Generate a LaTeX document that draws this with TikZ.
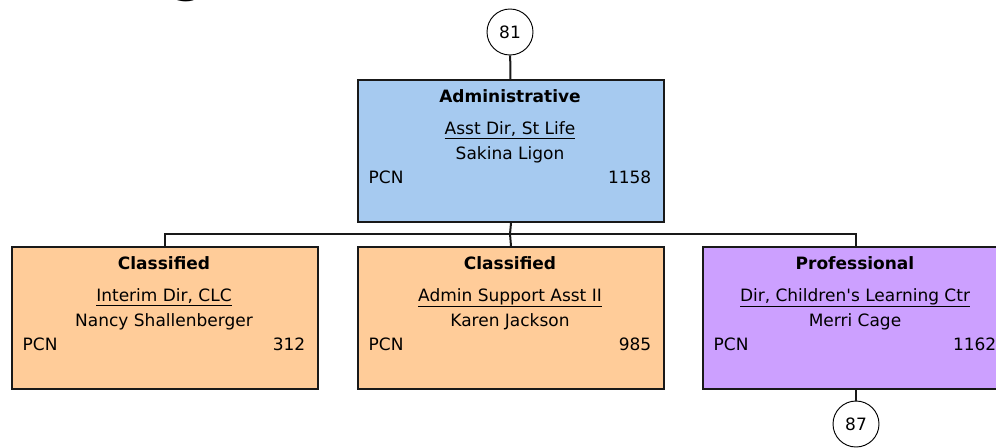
\documentclass[tikz,border=0pt]{standalone}
\usepackage{fontspec}
\setmainfont{DejaVu Sans}
\usepackage{tikz}
\usetikzlibrary{positioning}

\definecolor{adminblue}{RGB}{166,202,240}
\definecolor{classorange}{RGB}{255,204,153}
\definecolor{profpurple}{RGB}{204,160,255}

\tikzset{
	posbox/.style={draw=black!90,line width=1.5pt,anchor=north west,minimum width=229.5pt,minimum height=106.5pt,inner sep=0pt},
	pagelink/.style={draw,circle,line width=0.7pt,minimum size=34.5pt,inner sep=0pt,fill=white},
	kind/.style={anchor=base,font=\fontsize{12.75}{15}\selectfont\bfseries},
	conn/.style={line width=1.5pt,draw=black!90},
}

\begin{document}
\begin{tikzpicture}[x=0.75pt,y=-0.75pt,font=\fontsize{12.75}{15}\selectfont]
		
		\useasboundingbox (0,0) rectangle (996,447);
		
		% Title, cut off by the page
		\node[anchor=base,font=\fontsize{36}{40}\selectfont\bfseries] (heading) at (189,-9) {g};
		
		% Off-page links
		\node[pagelink] (link81) at (510,32) {81};
		\node[pagelink] (link87) at (856,424) {87};
		
		% Administrative
		\node[posbox,fill=adminblue] (admin) at (357,79) {};
		\node[kind] (admin-kind) at (510,102) {Administrative};
		\node[anchor=base] (admin-title) at (510,134) {\underline{Asst Dir, St Life}};
		\node[anchor=base] (admin-name) at (510,159) {Sakina Ligon};
		\node[anchor=base west] (admin-pcn) at (364,183) {PCN};
		\node[anchor=base east] (admin-num) at (656,183) {1158};
		
		% Classified, left
		\node[posbox,fill=classorange] (interim) at (11,246) {};
		\node[kind] (interim-kind) at (164,269) {Classified};
		\node[anchor=base] (interim-title) at (164,301) {\underline{Interim Dir, CLC}};
		\node[anchor=base] (interim-name) at (164,326) {Nancy Shallenberger};
		\node[anchor=base west] (interim-pcn) at (18,350) {PCN};
		\node[anchor=base east] (interim-num) at (310,350) {312};
		
		% Classified, middle
		\node[posbox,fill=classorange] (support) at (357,246) {};
		\node[kind] (support-kind) at (510,269) {Classified};
		\node[anchor=base] (support-title) at (510,301) {\underline{Admin Support Asst II}};
		\node[anchor=base] (support-name) at (510,326) {Karen Jackson};
		\node[anchor=base west] (support-pcn) at (364,350) {PCN};
		\node[anchor=base east] (support-num) at (656,350) {985};
		
		% Professional, right
		\node[posbox,fill=profpurple] (learning) at (702,246) {};
		\node[kind] (learning-kind) at (855,269) {Professional};
		\node[anchor=base] (learning-title) at (855,301) {\underline{Dir, Children\textquotesingle s Learning Ctr}};
		\node[anchor=base] (learning-name) at (855,326) {Merri Cage};
		\node[anchor=base west] (learning-pcn) at (709,350) {PCN};
		\node[anchor=base east] (learning-num) at (1001,350) {1162};
		
		% Connectors
		\coordinate (bar) at (510,234);
		\draw[conn] (link81) -- (admin);
		\draw[conn] (admin.south) -- (bar);
		\draw[conn] (bar) -| (interim.north);
		\draw[conn] (bar) -- (support.north);
		\draw[conn] (bar) -| (learning.north);
		\draw[conn] (learning.south) -- (link87);
		
	\end{tikzpicture}
\end{document}
